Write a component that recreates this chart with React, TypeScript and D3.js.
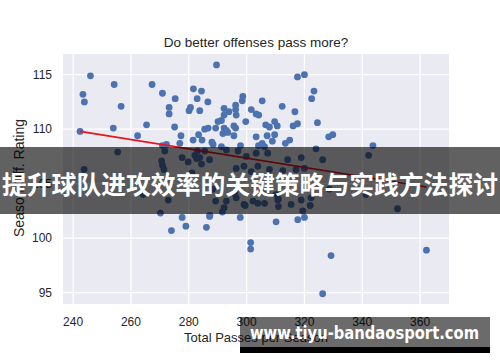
import React from 'react';
import * as d3 from 'd3';

// total passes vs season offensive rating
const passes = [
  246.0, 243.4, 243.9, 254.2, 256.6, 242.4, 253.9, 262.3, 265.4, 267.3,
  270.9, 275.3, 273.2, 273.2, 275.1, 277.3, 276.9, 270.9, 281.6, 282.9,
  280.6, 280.1, 281.5, 283.4, 289.6, 317.6, 320.0, 323.3, 322.5, 324.5,
  328.4, 329.8, 284.4, 286.6, 283.8, 292.2, 293.9, 292.2, 296.2, 296.2,
  296.4, 298.7, 298.5, 301.6, 303.3, 304.2, 305.4, 312.3, 316.7, 290.1,
  291.3, 286.7, 285.5, 284.6, 289.3, 292.2, 293.0, 291.8, 293.5, 295.6,
  296.2, 295.6, 299.7, 306.6, 307.9, 309.7, 310.6, 303.3, 307.1, 309.7,
  308.9, 305.4, 304.1, 316.1, 317.6, 314.9, 313.4, 297.9, 288.0, 291.3,
  343.7,
  255.4, 243.8, 270.6, 270.9, 271.4, 270.2, 272.9, 277.7, 279.0, 274.0,
  277.7, 279.8, 282.1, 282.7, 281.1, 272.3, 271.7, 264.2, 286.1, 287.3,
  291.6, 292.2, 289.3, 288.2, 296.4, 299.5, 297.8, 283.0, 285.5, 288.4,
  293.0, 297.0, 299.9, 303.3, 306.2, 307.3, 314.2, 318.9, 324.0, 326.3,
  287.2, 283.8, 284.4, 296.4, 299.1, 301.6, 303.9, 307.9, 312.5, 317.1,
  320.0, 293.0, 295.9, 299.1, 302.2, 306.2, 310.8, 315.4, 318.9, 322.3,
  319.4, 287.2, 310.2, 317.7, 320.0, 305.1, 310.2, 311.0, 311.0, 303.9,
  322.0, 341.3, 328.6, 352.2, 342.2,
  301.4, 301.4, 329.2, 326.3, 362.2,
];
const offRating = [
  114.9, 113.2, 112.5, 114.1, 112.1, 109.8, 110.1, 109.4, 110.4, 114.1,
  113.3, 112.8, 112.0, 111.4, 110.2, 109.4, 108.7, 108.5, 113.7, 112.8,
  112.0, 111.7, 109.0, 109.5, 115.9, 114.8, 115.0, 113.5, 112.8, 110.6,
  109.3, 109.5, 113.5, 112.5, 111.7, 111.9, 111.6, 111.3, 112.2, 111.8,
  111.3, 113.0, 112.6, 111.8, 111.4, 111.3, 112.6, 112.1, 111.6, 110.7,
  110.8, 110.1, 110.0, 109.0, 110.1, 110.1, 109.9, 109.6, 109.7, 110.3,
  110.1, 109.4, 110.7, 110.4, 110.2, 110.7, 110.3, 109.3, 109.4, 109.5,
  108.9, 108.7, 108.5, 110.3, 110.5, 109.0, 108.7, 108.5, 108.8, 108.4,
  108.5,
  107.9, 106.3, 107.1, 106.7, 106.3, 102.3, 103.5, 101.9, 101.1, 100.7,
  107.4, 107.0, 107.6, 107.3, 106.0, 108.6, 108.0, 104.0, 101.0, 102.1,
  102.4, 102.8, 103.4, 104.5, 103.7, 103.0, 101.9, 108.0, 108.0, 108.6,
  108.1, 108.0, 107.5, 107.8, 108.4, 107.8, 107.2, 107.4, 108.2, 107.2,
  107.2, 107.4, 106.8, 106.4, 106.6, 106.1, 106.6, 106.3, 106.2, 106.3,
  106.4, 103.4, 104.1, 103.1, 103.4, 103.2, 103.5, 103.1, 103.5, 103.7,
  102.5, 102.0, 101.5, 101.7, 101.9, 104.3, 104.0, 102.9, 103.6, 103.2,
  103.0, 104.0, 104.5, 102.7, 107.6,
  99.6, 99.0, 98.4, 94.9, 98.9,
];

// fitted line as drawn
const fitX = [242.4, 362.2];
const fitY = [109.8, 104.7];

const xTicks = [240, 260, 280, 300, 320, 340, 360];
const yTicks = [95, 100, 105, 110, 115];

const title = 'Do better offenses pass more?';
const xLabel = 'Total Passes per Season';
const yLabel = 'Season Off. Rating';
const banner = '提升球队进攻效率的关键策略与实践方法探讨';
const watermark = 'www.tiyu-bandaosport.com';

const W = 500, H = 362;
const left = 63, right = 449, top = 54, bottom = 304;
const font = '"Liberation Sans", Arial, sans-serif';

export default function App() {
  const x = d3.scaleLinear().domain([236.5, 370]).range([left, right]);
  const y = d3.scaleLinear().domain([93.96, 116.9]).range([bottom, top]);
  const line = d3.line<number>().x((d, i) => x(fitX[i])).y((d, i) => y(fitY[i]));

  return (
    <svg width={W} height={H} style={{ position: 'absolute', left: 0, top: 0 }}>
      <rect width={W} height={H} fill="#fff" />
      <rect x={left} y={top} width={right - left} height={bottom - top} fill="#eaeaf2" />
      {xTicks.map(t => (
        <line key={'gx' + t} x1={x(t)} x2={x(t)} y1={top} y2={bottom} stroke="#fff" strokeWidth={1.3} />
      ))}
      {yTicks.map(t => (
        <line key={'gy' + t} x1={left} x2={right} y1={y(t)} y2={y(t)} stroke="#fff" strokeWidth={1.3} />
      ))}
      {passes.map((p, i) => (
        <circle key={i} cx={x(p)} cy={y(offRating[i])} r={3.4} fill="#4c72b0" />
      ))}
      <path d={line(fitX) || ''} fill="none" stroke="#e8141c" strokeWidth={1.6} />

      <g fontFamily={font} fill="#262626">
        {xTicks.map(t => (
          <text key={'tx' + t} x={x(t)} y={326} textAnchor="middle" fontSize={12}>{t}</text>
        ))}
        {yTicks.map(t => (
          <text key={'ty' + t} x={52} y={y(t)} dy="0.35em" textAnchor="end" fontSize={12}>{t}</text>
        ))}
        <text x={(left + right) / 2} y={47} textAnchor="middle" fontSize={13.5}>{title}</text>
        <text x={(left + right) / 2} y={342} textAnchor="middle" fontSize={13}>{xLabel}</text>
        <text transform={`translate(24,178) rotate(-90)`} textAnchor="middle" fontSize={14}>{yLabel}</text>
      </g>

      <rect x={0} y={147} width={W} height={67} fill="rgba(0,0,0,0.62)" />
      <text x={250} y={194} textAnchor="middle" fontSize={25} fontWeight="bold" fill="#fff"
        fontFamily='"Noto Sans CJK SC", sans-serif' textLength={496} lengthAdjust="spacingAndGlyphs">{banner}</text>

      <rect x={240} y={317} width={250} height={30} fill="rgba(0,0,0,0.58)" />
      <rect x={240} y={347} width={250} height={6} fill="#000" />
      <text x={250} y={339} fontSize={18} fontWeight="bold" fill="#fff" fontFamily='"DejaVu Sans", sans-serif'
        textLength={229} lengthAdjust="spacingAndGlyphs">{watermark}</text>
    </svg>
  );
}
